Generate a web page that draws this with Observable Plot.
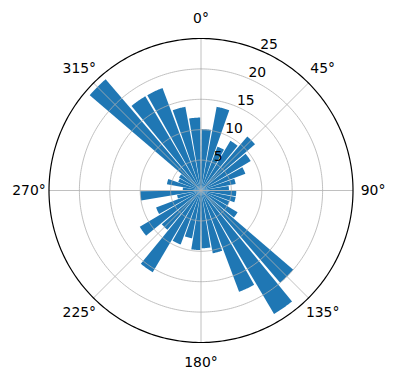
<!DOCTYPE html>
<html><head><meta charset="utf-8">
<script src="https://cdn.jsdelivr.net/npm/d3@7"></script>
<script src="https://cdn.jsdelivr.net/npm/@observablehq/plot@0.6"></script>
<style>body{margin:0;background:#fff}</style>
</head><body><div id="chart"></div>
<script>
// bar centre directions (degrees, clockwise from north)
const directions = [5,15,25,35,45,55,65,75,85,95,105,115,125,135,145,155,165,175,
                    185,195,205,215,225,235,245,255,265,275,285,295,305,315,325,335,345,355];
// bar lengths
const radii = [10.1,14.0,7.7,9.5,11.7,9.5,7.8,5.8,4.6,5.8,5.8,5.0,7.0,20.0,23.6,17.8,10.5,9.5,
               9.8,8.0,9.5,15.6,8.5,11.7,7.9,4.0,10.0,3.0,5.7,4.0,4.2,24.1,18.0,18.0,14.0,12.0];
const barWidthDeg = 8.8;
const rTicks = [5,10,15,20,25];
const rTickLabels = ["5","10","15","20","25"];
const thetaTicks = [0,45,90,135,180,225,270,315];
const thetaLabels = ["0°","45°","90°","135°","180°","225°","270°","315°"];
const rMax = 25;

const rad = d => d * Math.PI / 180;
const px = (r, d) => r * Math.sin(rad(d));
const py = (r, d) => r * Math.cos(rad(d));

const wedges = [];
directions.forEach((d, i) => {
  const r = radii[i];
  wedges.push({bar: i, x: 0, y: 0});
  const n = 16;
  for (let k = 0; k <= n; k++) {
    const t = d - barWidthDeg / 2 + barWidthDeg * k / n;
    wedges.push({bar: i, x: px(r, t), y: py(r, t)});
  }
  wedges.push({bar: i, x: 0, y: 0});
});

const circles = [];
rTicks.forEach(r => {
  for (let k = 0; k <= 360; k++) circles.push({r, x: px(r, k), y: py(r, k)});
});
const inner = circles.filter(c => c.r < rMax);
const outer = circles.filter(c => c.r === rMax);

const spokes = thetaTicks.map(t => ({x1: 0, y1: 0, x2: px(rMax, t), y2: py(rMax, t)}));
const thetaText = thetaTicks.map((t, i) => ({x: px(28.3, t), y: py(28.3, t), label: thetaLabels[i]}));
const rText = rTicks.map((r, i) => ({x: px(r, 22.5), y: py(r, 22.5), label: rTickLabels[i]}));

const font = "DejaVu Sans, sans-serif";
const chart = Plot.plot({
  width: 396, height: 380,
  marginLeft: 48.5, marginRight: 43.5, marginTop: 38, marginBottom: 38,
  x: {domain: [-rMax, rMax], axis: null},
  y: {domain: [-rMax, rMax], axis: null},
  style: {fontFamily: font, background: "white"},
  marks: [
    Plot.line(wedges, {x: "x", y: "y", z: "bar", fill: "#1f77b4", stroke: "none", curve: "linear"}),
    Plot.line(inner, {x: "x", y: "y", z: "r", stroke: "#b0b0b0", strokeWidth: 0.8}),
    Plot.link(spokes, {x1: "x1", y1: "y1", x2: "x2", y2: "y2", stroke: "#b0b0b0", strokeWidth: 0.8}),
    Plot.line(outer, {x: "x", y: "y", stroke: "black", strokeWidth: 1.2}),
    Plot.text(thetaText, {x: "x", y: "y", text: "label", fontSize: 13.9, fill: "black", textAnchor: "middle", lineAnchor: "middle"}),
    Plot.text(rText, {x: "x", y: "y", text: "label", fontSize: 13.9, fill: "black", textAnchor: "start", lineAnchor: "bottom", dx: 1, dy: -1})
  ]
});
document.getElementById("chart").appendChild(chart);
</script>
</body></html>
